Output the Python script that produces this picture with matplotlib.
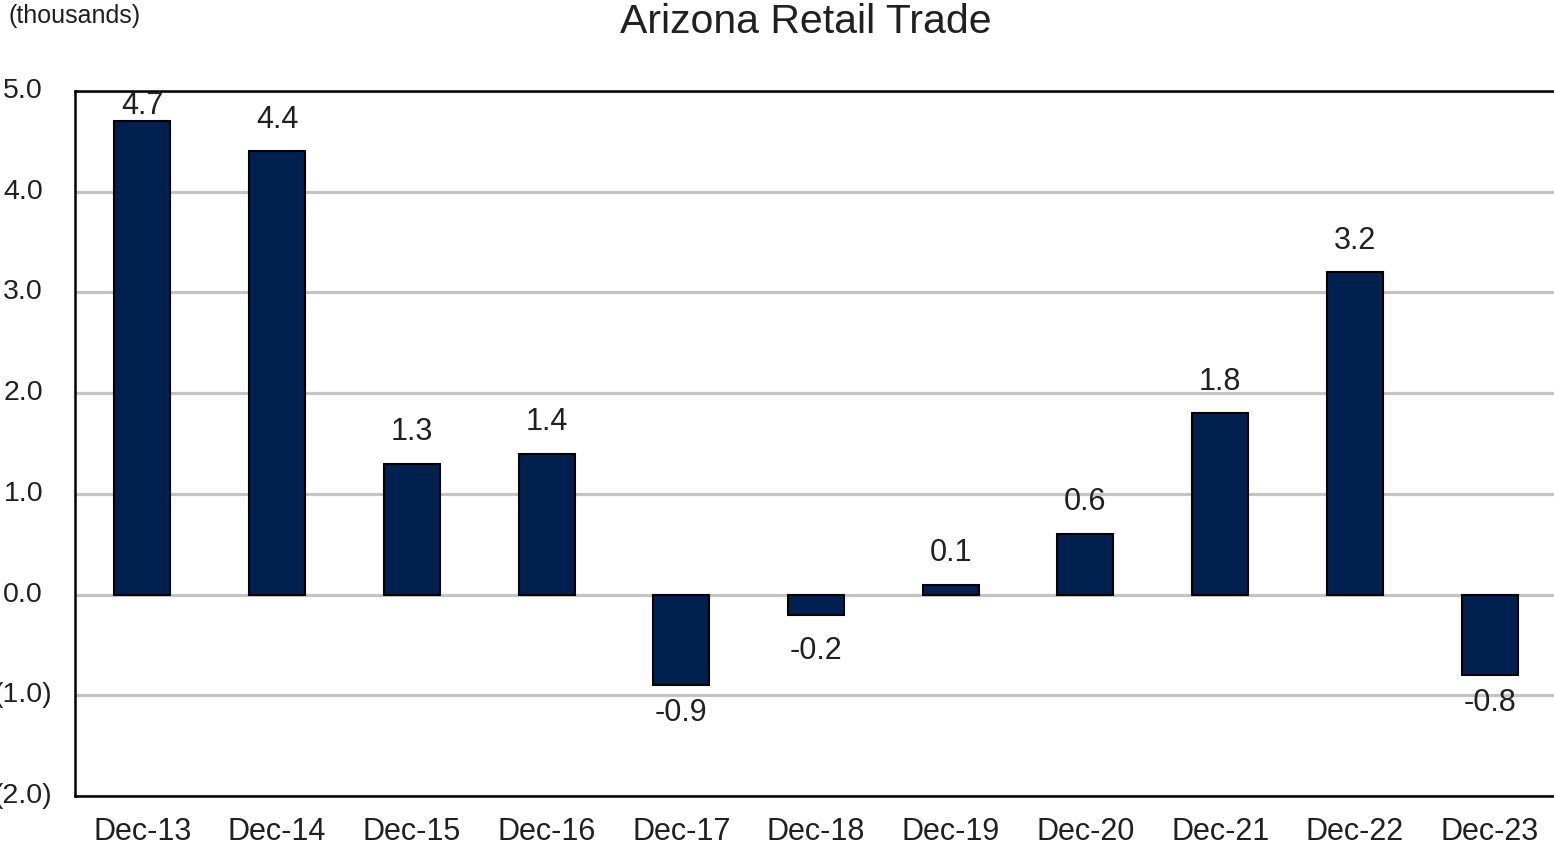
import matplotlib.pyplot as plt
import matplotlib.transforms as mtransforms

plt.rcParams['font.family'] = ['Liberation Sans', 'DejaVu Sans']

# Дані графіка
categories = ['Dec-13', 'Dec-14', 'Dec-15', 'Dec-16', 'Dec-17', 'Dec-18',
              'Dec-19', 'Dec-20', 'Dec-21', 'Dec-22', 'Dec-23']
values = [4.7, 4.4, 1.3, 1.4, -0.9, -0.2, 0.1, 0.6, 1.8, 3.2, -0.8]
y_ticks = [5, 4, 3, 2, 1, 0, -1, -2]
y_tick_labels = ['5.0', '4.0', '3.0', '2.0', '1.0', '0.0', '(1.0)', '(2.0)']

W, H = 1554, 847
fig = plt.figure(figsize=(W / 100, H / 100), dpi=100)
ax = fig.add_axes([75 / W, 1 - 796 / H, (1557 - 75) / W, (796 - 91) / H])

x = range(len(categories))
ax.bar(x, values, width=0.415, color='#002050', edgecolor='black',
       linewidth=1.5, zorder=3)

ax.set_xlim(-0.5, len(categories) - 0.5)
ax.set_ylim(-2, 5)

# Сітка
ax.set_yticks(y_ticks)
ax.yaxis.grid(True, color='#c4c4c4', linewidth=2.3, zorder=1)
ax.set_axisbelow(True)
ax.tick_params(axis='y', length=0, labelleft=False)

ax.set_xticks(list(x))
ax.set_xticklabels(categories, fontsize=22, color='#202020')
ax.tick_params(axis='x', length=0, pad=15)

for side in ['left', 'top', 'bottom']:
    ax.spines[side].set_linewidth(1.8)
    ax.spines[side].set_color('black')
ax.spines['right'].set_visible(False)

# Підписи осі Y (вирівнювання як в Excel)
trans = mtransforms.blended_transform_factory(fig.transFigure, ax.transData)
for t, lab in zip(y_ticks, y_tick_labels):
    xr = 52 if lab.startswith('(') else 43
    fig.text(xr / W, t, lab, transform=trans, ha='right', va='center',
             fontsize=20.5, color='#202020')

# Підписи значень
for i, v in enumerate(values):
    if v >= 0:
        off = 0 if v > 4.6 else 12
        ax.annotate(f'{v:.1f}', (i, v), xytext=(0, off), textcoords='offset points',
                    ha='center', va='bottom', fontsize=22, color='#202020',
                    annotation_clip=False, zorder=4)
    else:
        off = 9 if v < -0.5 else 15
        ax.annotate(f'{v:.1f}', (i, v), xytext=(0, -off), textcoords='offset points',
                    ha='center', va='top', fontsize=22, color='#202020',
                    annotation_clip=False, zorder=4)

fig.text(806 / W, 1 - 33 / H, 'Arizona Retail Trade', ha='center', va='baseline',
         fontsize=29.5, color='#202020')
fig.text(8 / W, 1 - 23 / H, '(thousands)', ha='left', va='baseline',
         fontsize=18, color='#202020')

fig.savefig('out.png', dpi=100)
